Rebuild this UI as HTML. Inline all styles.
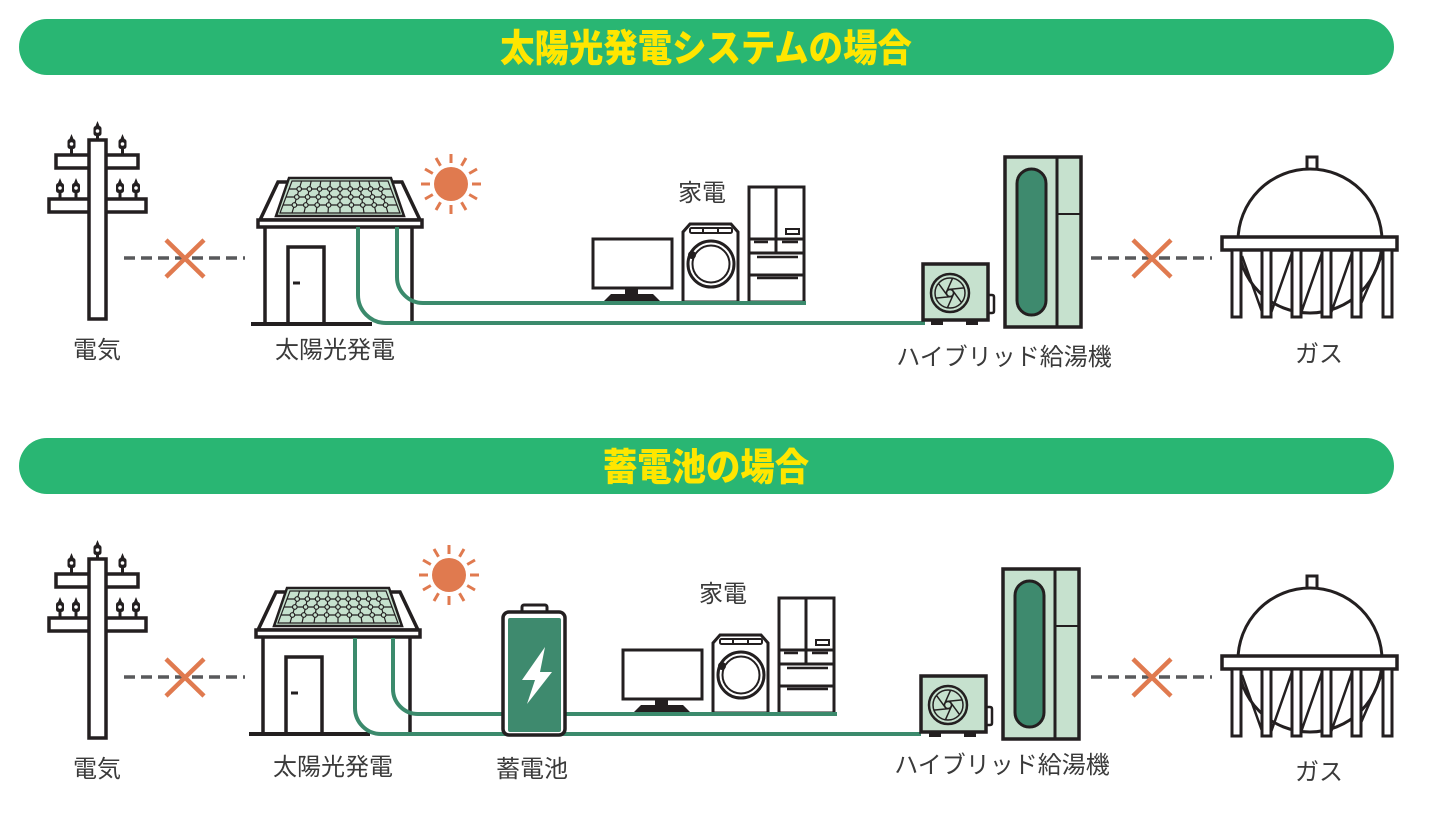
<!DOCTYPE html>
<html><head><meta charset="utf-8">
<style>
html,body{margin:0;padding:0;background:#fff;}
svg{display:block;}
text{font-family:"Liberation Sans","Noto Sans CJK JP",sans-serif;}
.lbl{font-size:24px;fill:#3a3a3a;text-anchor:middle;}
.ttl{font-size:34.4px;font-weight:900;fill:#FFE600;text-anchor:middle;}
</style></head><body>
<svg width="1448" height="826" viewBox="0 0 1448 826" xmlns="http://www.w3.org/2000/svg">
<defs>
  <g id="ins">
    <path d="M-2 0 L0 -5 L2 0 Z" fill="#231f20"/>
    <rect x="-4" y="0" width="8" height="10" rx="2.5" fill="#231f20"/>
    <circle cx="0" cy="5" r="1.8" fill="#fff"/>
    <rect x="-1.5" y="10" width="3" height="5" fill="#231f20"/>
  </g>
  <g id="pole">
    <g stroke="#231f20" stroke-width="3.5" fill="#fff">
      <rect x="49" y="199" width="97" height="13"/>
      <rect x="56" y="155" width="82" height="13"/>
      <rect x="89" y="140" width="17" height="179"/>
    </g>
    <use href="#ins" transform="translate(97.5,126)"/>
    <use href="#ins" transform="translate(71.5,139)"/>
    <use href="#ins" transform="translate(122.5,139)"/>
    <use href="#ins" transform="translate(60,183)"/>
    <use href="#ins" transform="translate(76,183)"/>
    <use href="#ins" transform="translate(120,183)"/>
    <use href="#ins" transform="translate(136,183)"/>
  </g>
  <g id="cut">
    <line x1="124" y1="258" x2="245" y2="258" stroke="#58595b" stroke-width="3.5" stroke-dasharray="11 6"/>
    <path d="M166 240 L204 277 M204 240 L166 277" stroke="#E07A4F" stroke-width="4.5" fill="none"/>
  </g>
  <g id="sun">
    <circle r="17" fill="#E07A4F"/>
    <path stroke="#E07A4F" stroke-width="3" d="M21 0H30 M18.2 10.5L26 15 M10.5 18.2L15 26 M0 21V30 M-10.5 18.2L-15 26 M-18.2 10.5L-26 15 M-21 0H-30 M-18.2 -10.5L-26 -15 M-10.5 -18.2L-15 -26 M0 -21V-30 M10.5 -18.2L15 -26 M18.2 -10.5L26 -15"/>
  </g>
  <g id="house">
    <g stroke="#231f20" stroke-width="3.5" fill="#fff">
      <path d="M265 226 V324 M412 226 V324" fill="none"/>
      <path d="M260 220 L278 182 L402 182 L420 220 Z"/>
      <rect x="258" y="220" width="164" height="7"/>
      <rect x="288" y="247" width="36" height="77"/>
      <line x1="293" y1="283" x2="300" y2="283" stroke-width="3"/>
      <line x1="251" y1="324" x2="372" y2="324" stroke-width="4"/>
    </g>
    <g stroke="#231f20">
      <path d="M289 178 H391 L404 216 H276 Z" fill="#C6E1CE" stroke-width="2.5"/>
      <path d="M292 181 H388 L400 213 H280 Z M289 189 H391 M286 197 H394 M283 205 H397 M301.6 181 L292 213 M311.2 181 L304 213 M320.8 181 L316 213 M330.4 181 L328 213 M340 181 V213 M349.6 181 L352 213 M359.2 181 L364 213 M368.8 181 L376 213 M378.4 181 L388 213" fill="none" stroke-width="1.2"/>
      <g fill="#C6E1CE" stroke-width="1.2">
        <circle cx="299.2" cy="189" r="2.3"/><circle cx="309.4" cy="189" r="2.3"/><circle cx="319.6" cy="189" r="2.3"/><circle cx="329.8" cy="189" r="2.3"/><circle cx="340" cy="189" r="2.3"/><circle cx="350.2" cy="189" r="2.3"/><circle cx="360.4" cy="189" r="2.3"/><circle cx="370.6" cy="189" r="2.3"/><circle cx="380.8" cy="189" r="2.3"/>
        <circle cx="296.8" cy="197" r="2.3"/><circle cx="307.6" cy="197" r="2.3"/><circle cx="318.4" cy="197" r="2.3"/><circle cx="329.2" cy="197" r="2.3"/><circle cx="340" cy="197" r="2.3"/><circle cx="350.8" cy="197" r="2.3"/><circle cx="361.6" cy="197" r="2.3"/><circle cx="372.4" cy="197" r="2.3"/><circle cx="383.2" cy="197" r="2.3"/>
        <circle cx="294.4" cy="205" r="2.3"/><circle cx="305.8" cy="205" r="2.3"/><circle cx="317.2" cy="205" r="2.3"/><circle cx="328.6" cy="205" r="2.3"/><circle cx="340" cy="205" r="2.3"/><circle cx="351.4" cy="205" r="2.3"/><circle cx="362.8" cy="205" r="2.3"/><circle cx="374.2" cy="205" r="2.3"/><circle cx="385.6" cy="205" r="2.3"/>
      </g>
    </g>
  </g>
  <g id="appl">
    <g stroke="#231f20" stroke-width="3" fill="#fff">
      <rect x="593" y="239" width="79" height="49"/>
      <path d="M690 224 H731 L738 232 V302 H683 V232 Z"/>
      <rect x="690" y="228" width="42" height="5" rx="1.5" stroke-width="2"/>
      <path d="M703 228 V233 M718 228 V233" stroke-width="2" fill="none"/>
      <circle cx="711" cy="264" r="23"/>
      <circle cx="711" cy="264" r="18.5" stroke-width="2"/>
      <rect x="749" y="187" width="55" height="115"/>
      <path d="M776 187 V253 M749 239 H804 M749 253 H804 M749 275 H804" fill="none"/>
      <rect x="786" y="229" width="13" height="5" stroke-width="2"/>
      <path d="M754 242 H768 M782 242 H798 M757 257 H798 M757 278 H798" stroke-width="2.5" fill="none"/>
    </g>
    <rect x="625" y="288" width="13" height="7" fill="#231f20"/>
    <path d="M611 294 H653 L660 301 H604 Z" fill="#231f20"/>
    <circle cx="692" cy="255" r="4" fill="#231f20"/>
  </g>
  <g id="wh">
    <g stroke="#231f20" stroke-width="3.5">
      <rect x="1005" y="157" width="76" height="170" fill="#C6E1CE"/>
      <path d="M1057 157 V327" fill="none" stroke-width="3"/>
      <path d="M1057 214 H1081" fill="none" stroke-width="2"/>
      <rect x="1017" y="169" width="29" height="146" rx="14.5" fill="#3E8A6E" stroke-width="3"/>
      <path d="M988 295 H992 Q994 295 994 297 V311 Q994 313 992 313 H988" fill="none" stroke-width="2.5"/>
      <rect x="923" y="264" width="65" height="56" fill="#C6E1CE"/>
    </g>
    <rect x="931" y="320" width="12" height="5" fill="#231f20"/>
    <rect x="966" y="320" width="12" height="5" fill="#231f20"/>
    <g transform="translate(950,293)" stroke="#231f20" fill="none">
      <circle r="19" stroke-width="2.5"/>
      <circle r="15" stroke-width="1.5"/>
      <circle r="3.5" stroke-width="1.5"/>
      <path stroke-width="1.5" d="M4 0 L-2.6 14.8 M2 3.46 L-14.1 5.1 M-2 3.46 L-11.5 -9.6 M-4 0 L2.6 -14.8 M-2 -3.46 L14.1 -5.1 M2 -3.46 L11.5 9.6"/>
    </g>
  </g>
  <g id="gas">
    <g stroke="#231f20" stroke-width="3" fill="#fff">
      <rect x="1307" y="157" width="10" height="13"/>
      <circle cx="1310" cy="241" r="72"/>
      <path d="M1242 256 L1262 312 M1270 316 L1292 253 M1300 316 L1322 253 M1330 316 L1352 253 M1360 306 L1383 253" fill="none" stroke-width="2.5"/>
      <rect x="1222" y="237" width="175" height="13" stroke-width="3.5"/>
      <rect x="1232" y="250" width="9" height="67"/>
      <rect x="1262" y="250" width="9" height="67"/>
      <rect x="1292" y="250" width="9" height="67"/>
      <rect x="1322" y="250" width="9" height="67"/>
      <rect x="1352" y="250" width="9" height="67"/>
      <rect x="1383" y="250" width="9" height="67"/>
    </g>
  </g>
</defs>

<!-- Banners -->
<rect x="19" y="19" width="1375" height="56" rx="28" fill="#29B673"/>
<text class="ttl" transform="translate(706,61.5) scale(1,1.1)" x="0" y="0">太陽光発電システムの場合</text>
<rect x="19" y="438" width="1375" height="56" rx="28" fill="#29B673"/>
<text class="ttl" transform="translate(706,480.5) scale(1,1.1)" x="0" y="0">蓄電池の場合</text>

<!-- Section 1 -->
<use href="#pole"/>
<use href="#cut"/>
<use href="#cut" transform="translate(967,0)"/>
<use href="#sun" transform="translate(451,184)"/>
<use href="#house"/>
<use href="#appl"/>
<g stroke="#3B8A6C" stroke-width="4" fill="none">
  <path d="M358 227 V295 A28 28 0 0 0 386 323 H925"/>
  <path d="M397 227 V277 A26 26 0 0 0 423 303 H806"/>
</g>
<use href="#wh"/>
<use href="#gas"/>

<text class="lbl" x="97" y="358">電気</text>
<text class="lbl" x="335" y="358">太陽光発電</text>
<text class="lbl" x="702" y="201">家電</text>
<text class="lbl" x="1004" y="365">ハイブリッド給湯機</text>
<text class="lbl" x="1319" y="362">ガス</text>

<!-- Section 2 -->
<use href="#pole" transform="translate(0,419)"/>
<use href="#cut" transform="translate(0,419)"/>
<use href="#cut" transform="translate(967,419)"/>
<use href="#sun" transform="translate(449,575)"/>
<use href="#house" transform="translate(-2,410)"/>
<use href="#appl" transform="translate(30,411)"/>
<g stroke="#3B8A6C" stroke-width="4" fill="none">
  <path d="M355 638 V708 A26 26 0 0 0 381 734 H921"/>
  <path d="M393 638 V689 A25 25 0 0 0 418 714 H837"/>
</g>
<!-- Battery -->
<rect x="522" y="605" width="25" height="9" rx="2" fill="#fff" stroke="#231f20" stroke-width="3"/>
<rect x="503" y="612" width="62" height="123" rx="6" fill="#fff" stroke="#231f20" stroke-width="3.5"/>
<rect x="508" y="618" width="53" height="114" rx="2" fill="#3E8A6E"/>
<path d="M545 647 L522 680 L535 680 L527 704 L552 672 L540 672 Z" fill="#fff"/>
<use href="#wh" transform="translate(-2,412)"/>
<use href="#gas" transform="translate(0,419)"/>

<text class="lbl" x="97" y="777">電気</text>
<text class="lbl" x="333" y="775">太陽光発電</text>
<text class="lbl" x="532" y="777">蓄電池</text>
<text class="lbl" x="723" y="602">家電</text>
<text class="lbl" x="1002" y="773">ハイブリッド給湯機</text>
<text class="lbl" x="1319" y="780">ガス</text>
</svg>
</body></html>
